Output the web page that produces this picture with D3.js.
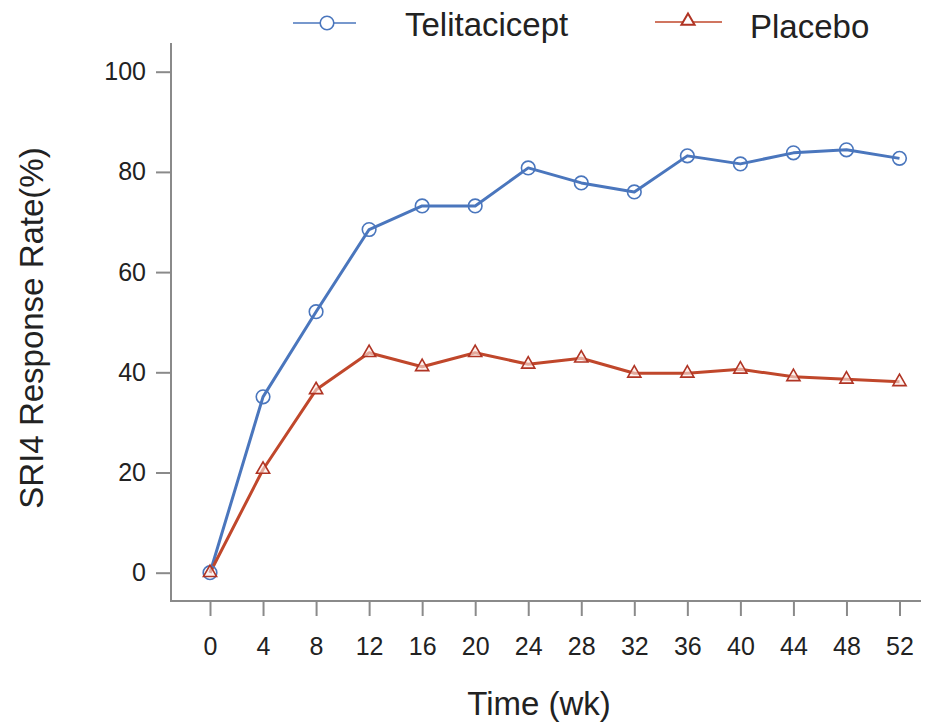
<!DOCTYPE html>
<html>
<head>
<meta charset="utf-8">
<script src="https://cdn.jsdelivr.net/npm/d3@7"></script>
<style>
  html, body { margin: 0; padding: 0; background: #fff; }
  svg { display: block; font-family: Arial, "Liberation Sans", Helvetica, sans-serif; }
</style>
</head>
<body>
<svg id="chart" width="925" height="725"></svg>
<script>
// Study weeks and response rates (%)
const weeks = [0, 4, 8, 12, 16, 20, 24, 28, 32, 36, 40, 44, 48, 52];
const telitacicept = [0, 35.1, 52.1, 68.5, 73.2, 73.2, 80.8, 77.8, 76.0, 83.2, 81.6, 83.8, 84.4, 82.7];
const placebo = [0, 20.6, 36.5, 43.9, 41.1, 43.9, 41.6, 42.8, 39.8, 39.8, 40.6, 39.1, 38.6, 38.1];
const yTicks = [0, 20, 40, 60, 80, 100];
const seriesNames = ["Telitacicept", "Placebo"];

const blue = "#4a76bd";
const red = "#c0472b";
const redDark = "#b03424";
const axisColor = "#8a8a8a";
const textColor = "#222";

const svg = d3.select("#chart");

const x = d3.scaleLinear().domain([0, 52]).range([210, 899.5]);
const y = d3.scaleLinear().domain([0, 100]).range([572.7, 71.7]);

// Axes
const yAxis = d3.axisLeft(y).tickValues(yTicks).tickSize(15).tickPadding(10);
const gy = svg.append("g").attr("transform", "translate(171,0)").call(yAxis);
gy.select(".domain").remove();
gy.append("line").attr("x1", 0).attr("x2", 0).attr("y1", 43).attr("y2", 602)
  .attr("stroke", axisColor).attr("stroke-width", 2);

const xAxis = d3.axisBottom(x).tickValues(weeks).tickSize(15).tickPadding(21);
const gx = svg.append("g").attr("transform", "translate(0,601)").call(xAxis);
gx.select(".domain").remove();
gx.append("line").attr("x1", 170).attr("x2", 921).attr("y1", 0).attr("y2", 0)
  .attr("stroke", axisColor).attr("stroke-width", 2);

svg.selectAll(".tick line").attr("stroke", axisColor).attr("stroke-width", 2);
svg.selectAll(".tick text").attr("fill", textColor).style("font-size", "25px");

// Axis titles
svg.append("text").attr("x", 539).attr("y", 715).attr("text-anchor", "middle")
  .attr("fill", textColor).style("font-size", "33px").text("Time (wk)");
svg.append("text").attr("transform", "translate(43,328) rotate(-90)")
  .attr("text-anchor", "middle").attr("fill", textColor).style("font-size", "33px")
  .text("SRI4 Response Rate(%)");

// Lines
const line = d3.line().x((d, i) => x(weeks[i])).y(d => y(d));
svg.append("path").datum(telitacicept).attr("d", line)
  .attr("fill", "none").attr("stroke", blue).attr("stroke-width", 3).attr("stroke-linejoin", "round");
svg.append("path").datum(placebo).attr("d", line)
  .attr("fill", "none").attr("stroke", red).attr("stroke-width", 3).attr("stroke-linejoin", "round");

// Markers
const tri = d3.symbol().type(d3.symbolTriangle).size(75);
svg.append("g").selectAll("circle").data(telitacicept).join("circle")
  .attr("cx", (d, i) => x(weeks[i])).attr("cy", d => y(d)).attr("r", 6.8)
  .attr("fill", "none").attr("stroke", blue).attr("stroke-width", 1.6);
svg.append("g").selectAll("path").data(placebo).join("path")
  .attr("d", tri)
  .attr("transform", (d, i) => `translate(${x(weeks[i])},${y(d)})`)
  .attr("fill", "#fbe9e4").attr("fill-opacity", 0.6)
  .attr("stroke", redDark).attr("stroke-width", 1.6);

// Legend
const lg = svg.append("g");
lg.append("line").attr("x1", 293).attr("x2", 356).attr("y1", 23).attr("y2", 23)
  .attr("stroke", blue).attr("stroke-width", 1.5);
lg.append("circle").attr("cx", 327).attr("cy", 23).attr("r", 6.8)
  .attr("fill", "#fff").attr("stroke", blue).attr("stroke-width", 1.6);
lg.append("text").attr("x", 405).attr("y", 36).attr("fill", textColor)
  .style("font-size", "33px").text(seriesNames[0]);
lg.append("line").attr("x1", 655).attr("x2", 722).attr("y1", 22).attr("y2", 22)
  .attr("stroke", red).attr("stroke-width", 1.5);
lg.append("path").attr("d", tri).attr("transform", "translate(688,21)")
  .attr("fill", "#fff").attr("stroke", redDark).attr("stroke-width", 2);
lg.append("text").attr("x", 750).attr("y", 38).attr("fill", textColor)
  .style("font-size", "33px").text(seriesNames[1]);
</script>
</body>
</html>
